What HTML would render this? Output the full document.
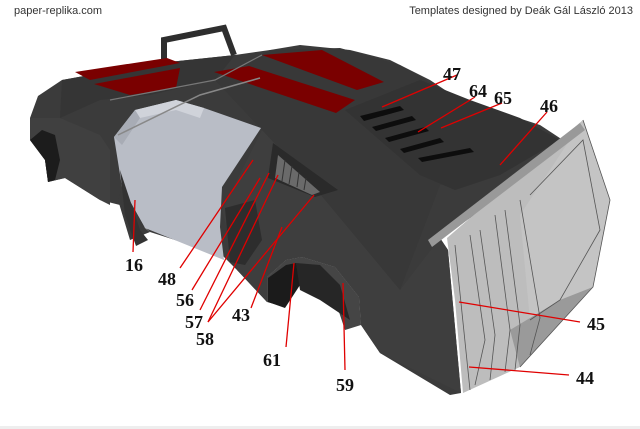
<!DOCTYPE html>
<html><head><meta charset="utf-8"><style>
html,body{margin:0;padding:0;background:#fff;}
svg{display:block}
.l{font-family:"Liberation Serif",serif;font-weight:bold;font-size:18px;fill:#111}
.h{font-family:"Liberation Sans",sans-serif;font-size:11px;fill:#333}
</style></head><body>
<svg width="640" height="429" viewBox="0 0 640 429" xmlns="http://www.w3.org/2000/svg">
<rect width="640" height="429" fill="#fff"/>
<rect x="0" y="426" width="640" height="3" fill="#eee"/>
<text class="h" x="14" y="14">paper-replika.com</text>
<text class="h" x="633" y="14" text-anchor="end">Templates designed by Deák Gál László 2013</text>

<!-- handle -->
<polyline points="164,72 164,40 224,28 234,55" fill="none" stroke="#2e2e2e" stroke-width="6"/>

<!-- main body -->
<polygon points="30,118 38,96 62,80 150,64 235,55 270,50 300,45 350,50 390,60 430,80 460,100 500,112 540,125 575,148 440,238 448,250 461,393 450,395 380,353 361,325 359,297 335,267 302,257 286,260 267,277 267,302 237,270 222,255 150,232 120,205 100,200 65,178 48,182 45,160 30,140" fill="#3b3b3b"/>
<!-- rear top panels -->
<polygon points="62,80 150,64 235,55 215,80 150,95 100,100 60,118" fill="#353535"/>
<!-- roof lighter section -->
<polygon points="215,80 270,50 340,48 400,65 460,100 500,112 505,140 470,175 440,185 400,290 330,260 290,235 262,130" fill="#383838"/>
<!-- trunk deck lighter -->
<polygon points="345,110 420,80 470,100 520,118 560,140 500,175 455,190 420,175" fill="#333"/>
<!-- side lower front panel -->
<polygon points="262,130 300,170 400,290 440,238 448,250 461,393 380,353 361,325 359,297 335,267 302,257 286,260 267,277 267,302 237,270 222,210" fill="#3e3e3e"/>
<polygon points="225,208 255,200 262,240 245,265 230,262" fill="#2d2d2d"/>
<!-- left rear fender -->
<polygon points="30,118 60,118 100,135 110,150 110,205 100,200 65,178 48,182 45,160 30,140" fill="#404040"/>
<polygon points="30,140 42,130 55,135 60,160 55,180 48,182 45,160" fill="#1c1c1c"/>

<!-- door/interior gray -->
<polygon points="114,137 135,110 176,100 204,108 261,128 222,187 220,227 224,260 145,228 122,187" fill="#b9bdc6"/>
<polygon points="135,110 176,100 204,108 200,118 176,110 140,118" fill="#d0d3da"/>
<polygon points="114,137 135,110 140,118 122,145" fill="#a8acb5"/>
<polygon points="122,187 145,228 150,232 130,240 118,200" fill="#3b3b3b"/>
<polygon points="120,170 140,230 148,240 136,246 125,215" fill="#333"/>

<!-- front wheel arch -->
<polygon points="267,277 286,260 302,257 335,267 359,297 361,325 345,330 335,300 310,275 290,278 280,300 278,305 267,302" fill="#454545"/>
<polygon points="268,278 286,265 296,263 300,285 285,308 268,302" fill="#1b1b1b"/>
<polygon points="296,263 320,265 340,285 350,320 320,300 300,290" fill="#262626"/>

<!-- red stripes -->
<polygon points="75,72 167,58 180,63 90,80" fill="#7a0000"/>
<polygon points="94,84 180,68 176,88 130,95" fill="#7a0000"/>
<polygon points="262,55 322,50 384,82 357,90" fill="#7a0000"/>
<polygon points="214,72 249,66 355,100 336,113" fill="#7a0000"/>
<polyline points="110,100 215,80 262,55" fill="none" stroke="#777" stroke-width="1.2"/>
<polyline points="118,135 200,95 260,78" fill="none" stroke="#888" stroke-width="1.5"/>

<!-- louvers -->
<g fill="#0d0d0d">
<polygon points="360,116 400,106 404,110 364,121"/>
<polygon points="372,127 412,116 416,120 376,131"/>
<polygon points="385,138 425,127 429,131 389,142"/>
<polygon points="400,149 440,138 444,142 404,153"/>
<polygon points="418,158 470,148 474,152 422,162"/>
</g>

<!-- side vent -->
<polygon points="273,143 338,190 315,197 268,178" fill="#2a2a2a"/>
<polygon points="278,155 320,192 312,195 275,178" fill="#6a6a6a"/>
<g stroke="#333" stroke-width="1"><line x1="285" y1="160" x2="282" y2="181"/><line x1="292" y1="166" x2="289" y2="184"/><line x1="299" y1="172" x2="297" y2="187"/><line x1="306" y1="178" x2="304" y2="190"/></g>

<!-- bumper -->
<polygon points="447,238 583,120 610,200 593,287 520,367 463,393 455,300" fill="#bdbdbd"/>
<polygon points="520,215 583,120 610,200 593,287 560,300 530,320" fill="#c4c4c4"/>
<polygon points="593,287 520,367 510,330 560,300" fill="#9a9a9a"/>
<polygon points="428,240 580,123 585,130 432,247" fill="#999"/>
<g stroke="#555" stroke-width="0.8" fill="none">
<polyline points="455,245 470,390"/><polyline points="470,235 485,340 475,385"/><polyline points="480,230 495,335 490,380"/>
<polyline points="495,215 510,330 505,372"/><polyline points="505,210 520,325 515,370"/>
<polyline points="520,200 540,318 530,355"/><polyline points="583,120 610,200 593,287 520,367"/>
<polyline points="530,195 583,140 600,230 560,300 530,320"/>
</g>

<!-- leader lines -->
<g stroke="#e00000" stroke-width="1.3">
<line x1="457" y1="75" x2="382" y2="107"/>
<line x1="475" y1="97" x2="418" y2="132"/>
<line x1="502" y1="103" x2="441" y2="128"/>
<line x1="547" y1="112" x2="500" y2="165"/>
<line x1="135" y1="200" x2="133" y2="252"/>
<line x1="253" y1="160" x2="180" y2="268"/>
<line x1="260" y1="178" x2="192" y2="290"/>
<line x1="269" y1="173" x2="200" y2="310"/>
<line x1="278" y1="175" x2="208" y2="322"/>
<line x1="314" y1="195" x2="208" y2="322"/>
<line x1="282" y1="227" x2="251" y2="308"/>
<line x1="294" y1="263" x2="286" y2="347"/>
<line x1="343" y1="283" x2="345" y2="370"/>
<line x1="459" y1="302" x2="580" y2="322"/>
<line x1="469" y1="367" x2="569" y2="375"/>
</g>

<!-- labels -->
<text class="l" x="443" y="80">47</text>
<text class="l" x="469" y="97">64</text>
<text class="l" x="494" y="104">65</text>
<text class="l" x="540" y="112">46</text>
<text class="l" x="125" y="271">16</text>
<text class="l" x="158" y="285">48</text>
<text class="l" x="176" y="306">56</text>
<text class="l" x="185" y="328">57</text>
<text class="l" x="196" y="345">58</text>
<text class="l" x="232" y="321">43</text>
<text class="l" x="263" y="366">61</text>
<text class="l" x="336" y="391">59</text>
<text class="l" x="587" y="330">45</text>
<text class="l" x="576" y="384">44</text>
</svg>
</body></html>
